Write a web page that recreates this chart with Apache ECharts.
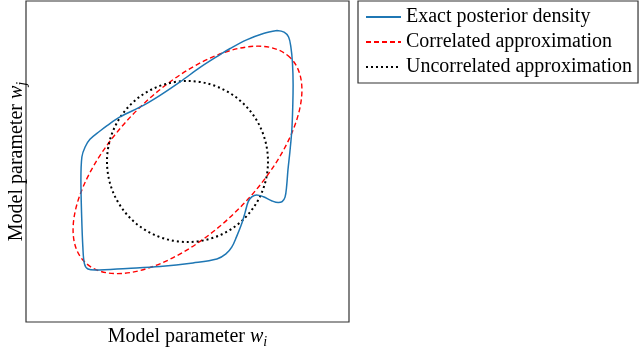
<!DOCTYPE html>
<html>
<head>
<meta charset="utf-8">
<script src="https://cdn.jsdelivr.net/npm/echarts@6/dist/echarts.min.js"></script>
<style>
html, body { margin: 0; padding: 0; background: #fff; }
#chart { width: 640px; height: 348px; }
</style>
</head>
<body>
<div id="chart"></div>
<script>
var names = ['Exact posterior density', 'Correlated approximation', 'Uncorrelated approximation'];

// exact posterior contour (plot units 0-100)
var exactX = [77.7, 79.9, 81.3, 82.0, 82.5, 82.7, 82.6, 82.3, 81.7, 81.1, 80.7, 80.2, 79.3, 78.1, 76.2, 73.5,
  71.4, 69.9, 68.8, 67.8, 66.8, 65.2, 63.7, 61.9, 59.1, 51.7, 41.5, 31.3, 21.4, 19.2, 18.1, 17.6,
  17.2, 17.0, 17.3, 18.3, 19.8, 22.9, 25.1, 29.1, 36.2, 41.5, 47.7, 53.9, 60.1, 63.2, 68.3, 73.5];
var exactY = [90.8, 90.3, 88.8, 85.7, 80.7, 73.8, 67.6, 59.8, 53.0, 47.4, 42.4, 38.9, 37.5, 37.2, 37.7, 39.0,
  39.6, 39.0, 37.5, 34.0, 30.7, 26.6, 23.3, 21.2, 19.6, 18.4, 17.3, 16.7, 16.2, 16.5, 18.1, 23.4,
  34.0, 44.2, 51.4, 54.5, 56.9, 59.5, 61.2, 63.9, 67.4, 70.6, 74.8, 79.3, 83.3, 85.2, 87.9, 89.9];

// correlated gaussian contour: centre x, centre y, semi-major, semi-minor, tilt (deg)
var ellipse = [50, 50.5, 45, 22, 45];
// uncorrelated gaussian contour: centre x, centre y, radius
var circle = [50, 50, 25];

var exact = exactX.map(function(x, i) { return [x, exactY[i]]; });
exact.push(exact[0]);

var serif = 'Liberation Serif';
var labelRich = {
  a: { fontFamily: serif, fontSize: 20, lineHeight: 24, color: '#000' },
  w: { fontFamily: serif, fontSize: 20, lineHeight: 24, fontStyle: 'italic', color: '#000' },
  s: { fontFamily: serif, fontSize: 14, lineHeight: 14, fontStyle: 'italic', color: '#000', padding: [10, 0, 0, 0] }
};

var myChart = echarts.init(document.getElementById('chart'));

myChart.setOption({
  animation: false,
  backgroundColor: '#fff',
  grid: {
    left: 26, top: 1, width: 323, height: 321,
    outerBoundsMode: 'none',
    containLabel: false,
    show: true, borderColor: '#333', borderWidth: 1.2, backgroundColor: 'transparent'
  },
  xAxis: {
    type: 'value', min: 0, max: 100,
    axisLine: { show: false }, axisTick: { show: false }, axisLabel: { show: false }, splitLine: { show: false },
    name: '{a|Model parameter }{w|w}{s|i}',
    nameLocation: 'middle', nameGap: 3,
    nameTextStyle: { rich: labelRich }
  },
  yAxis: {
    type: 'value', min: 0, max: 100,
    axisLine: { show: false }, axisTick: { show: false }, axisLabel: { show: false }, splitLine: { show: false },
    name: '{a|Model parameter }{w|w}{s|j}',
    nameLocation: 'middle', nameGap: -3,
    nameTextStyle: { rich: labelRich }
  },
  legend: {
    data: names,
    orient: 'vertical',
    left: 358, top: 1,
    padding: [5, 6, 5, 7],
    itemWidth: 35, itemHeight: 14, itemGap: 3,
    borderColor: '#333', borderWidth: 1.2, backgroundColor: '#fff',
    itemStyle: { color: 'rgba(0,0,0,0)', borderWidth: 0, opacity: 0 },
    textStyle: { fontFamily: serif, fontSize: 20, lineHeight: 22, color: '#000' }
  },
  series: [
    {
      type: 'line',
      name: names[0],
      data: exact,
      smooth: 0.35,
      symbol: 'none',
      itemStyle: { color: '#1f77b4' },
      lineStyle: { color: '#1f77b4', width: 1.5 }
    },
    {
      // legend sample only
      type: 'line', name: names[1], data: [], symbol: 'none',
      itemStyle: { color: '#ff0000' },
      lineStyle: { color: '#ff0000', width: 1.4, type: [5, 3] }
    },
    {
      // legend sample only
      type: 'line', name: names[2], data: [], symbol: 'none',
      itemStyle: { color: '#000' },
      lineStyle: { color: '#000', width: 2, type: [2, 3] }
    },
    {
      type: 'custom',
      name: names[1],
      data: [ellipse],
      renderItem: function(params, api) {
        var cx = api.value(0), cy = api.value(1), a = api.value(2), b = api.value(3);
        var t = api.value(4) * Math.PI / 180;
        var c = api.coord([cx, cy]);
        var p = api.coord([cx + a * Math.cos(t), cy + a * Math.sin(t)]);
        var q = api.coord([cx - b * Math.sin(t), cy + b * Math.cos(t)]);
        var P = [p[0] - c[0], p[1] - c[1]], Q = [q[0] - c[0], q[1] - c[1]];
        var k = 0.5523;
        function pt(u, v) { return (c[0] + u * P[0] + v * Q[0]).toFixed(2) + ' ' + (c[1] + u * P[1] + v * Q[1]).toFixed(2); }
        var d = 'M' + pt(1, 0) +
          ' C' + pt(1, k) + ' ' + pt(k, 1) + ' ' + pt(0, 1) +
          ' C' + pt(-k, 1) + ' ' + pt(-1, k) + ' ' + pt(-1, 0) +
          ' C' + pt(-1, -k) + ' ' + pt(-k, -1) + ' ' + pt(0, -1) +
          ' C' + pt(k, -1) + ' ' + pt(1, -k) + ' ' + pt(1, 0) + ' Z';
        return {
          type: 'path',
          shape: { pathData: d },
          style: { fill: 'none', stroke: '#ff0000', lineWidth: 1.4, lineDash: [5, 3] }
        };
      }
    },
    {
      type: 'custom',
      name: names[2],
      data: [circle],
      renderItem: function(params, api) {
        var c = api.coord([api.value(0), api.value(1)]);
        var s = api.size([api.value(2), api.value(2)]);
        return {
          type: 'circle',
          shape: { cx: c[0], cy: c[1], r: (s[0] + s[1]) / 2 },
          style: { fill: 'none', stroke: '#000', lineWidth: 2, lineDash: [2, 3] }
        };
      }
    }
  ]
});
</script>
</body>
</html>
